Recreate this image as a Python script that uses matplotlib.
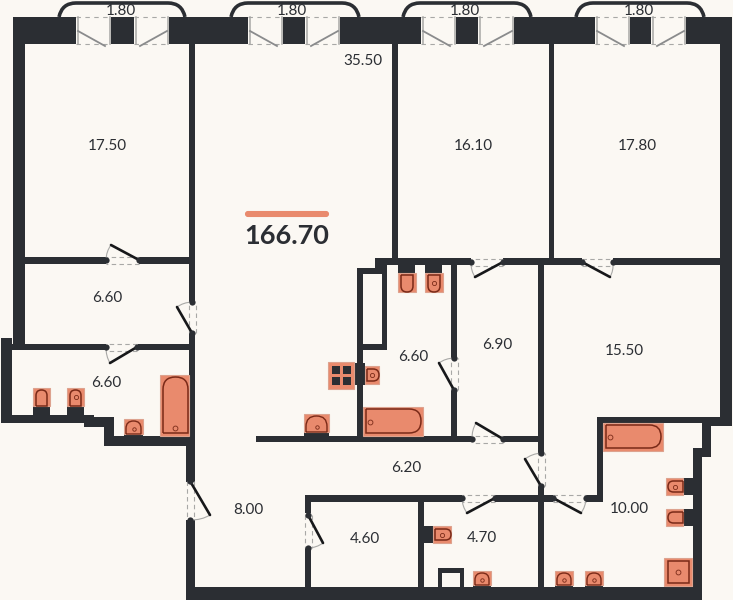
import matplotlib
matplotlib.use("Agg")
import matplotlib.pyplot as plt
from matplotlib.patches import Rectangle, Polygon, PathPatch, FancyBboxPatch
from matplotlib.path import Path

plt.rcParams['font.family'] = ['Lato', 'DejaVu Sans']

BG = '#FBF8F3'
WALL = '#2B2E33'
ORANGE = '#E98A6D'
ORANGE_EDGE = '#DDA28E'
LINE = '#7A2A18'
GREY = '#A8A8A6'

# room areas as printed on the plan
area_labels = ['17.50', '35.50', '16.10', '17.80', '6.60', '6.60', '6.60', '6.90',
               '15.50', '6.20', '8.00', '4.60', '4.70', '10.00']
area_x = [107, 363, 473, 637, 107, 106, 413, 497, 624, 406, 248, 365, 482, 629]
area_y = [146, 61, 146, 146, 298, 383, 357, 345, 351, 468, 510, 539, 538, 509]

balcony_label = '1.80'
total_label = '166.70'

# walls, x0 x1 y0 y1 in image pixels
walls = [
    (13, 76, 17, 44), (169, 248, 17, 44), (340, 421, 17, 44), (514, 595, 17, 44), (686, 732, 17, 44),
    (111, 134, 17, 44), (283, 305, 17, 44), (456, 478, 17, 44), (630, 651, 17, 44),
    (13, 25, 44, 345), (720, 732, 44, 426),
    (189, 195, 44, 302), (189, 195, 333, 440), (186, 195, 440, 482), (186, 195, 520, 600),
    (25, 106, 257, 264), (139, 190, 257, 264),
    (1, 106, 344, 350), (138, 190, 344, 350), (1, 12, 338, 423),
    (392, 398, 44, 258), (549, 554, 44, 258),
    (375, 471, 258, 265), (503, 582, 258, 265), (613, 720, 258, 265),
    (375, 387, 258, 274), (357, 382, 268, 274), (357, 363, 268, 442),
    (382, 387, 265, 350), (363, 387, 344, 350),
    (451, 457, 265, 358), (451, 457, 390, 436),
    (538, 544, 265, 453), (538, 544, 486, 600),
    (256, 472, 436, 442), (503, 538, 436, 442),
    (305, 462, 495, 502), (495, 553, 495, 502), (586, 603, 495, 502),
    (597, 603, 417, 502), (597, 732, 417, 423), (711, 732, 417, 426),
    (702, 711, 423, 457), (693, 702, 448, 600), (693, 711, 448, 457),
    (186, 702, 587, 600),
    (305, 311, 495, 513), (305, 311, 548, 587), (418, 424, 502, 587),
    (424, 433, 526, 543), (438, 442, 568, 587), (460, 464, 568, 587), (438, 464, 568, 573),
    # stubs behind the fixtures
    (33, 50, 406, 415), (67, 84, 406, 415), (124, 143, 433, 436), (304, 329, 432, 436),
    (354, 365, 363, 385), (398, 415, 265, 273), (425, 442, 265, 273),
    (683, 693, 478, 495), (683, 693, 509, 526),
    (473, 491, 584, 587), (555, 573, 584, 587), (585, 603, 584, 587),
]
step_wall = [(1, 415), (94, 415), (94, 417), (114, 417), (114, 436), (190, 436), (190, 446),
             (104, 446), (104, 427), (84, 427), (84, 423), (1, 423)]

# window openings: left edge, pier left, pier right, right edge, arch left, arch right
windows = [
    (76, 111, 134, 169, 59, 185),
    (248, 283, 305, 340, 231, 359),
    (421, 456, 478, 514, 403, 531),
    (595, 630, 651, 686, 576, 704),
]

# doors: hinge, other jamb, tip of the leaf
doors = [
    ((139, 260), (106, 260), (111, 245)),
    ((137, 347), (106, 347), (110, 363)),
    ((192, 333), (192, 302), (177, 307)),
    ((190, 481), (190, 520), (210, 515)),
    ((308, 515), (308, 548), (323, 543)),
    ((454, 390), (454, 358), (439, 363)),
    ((503, 439), (472, 439), (476, 423)),
    ((541, 486), (541, 453), (525, 459)),
    ((495, 498), (462, 498), (467, 513)),
    ((553, 498), (586, 498), (581, 513)),
    ((503, 262), (471, 262), (475, 277)),
    ((582, 262), (613, 262), (610, 277)),
]

# fixtures x0 x1 y0 y1, rounded side, drain circle or not
baths = [(160, 189, 375, 436, 'up'), (363, 423, 407, 436, 'right'), (603, 663, 423, 451, 'right')]
toilets = [(33, 50, 388, 406, 'up', False), (67, 84, 388, 406, 'up', True),
           (398, 416, 273, 292, 'down', False), (425, 443, 273, 292, 'down', True),
           (666, 683, 478, 495, 'left', True), (666, 683, 509, 526, 'left', False),
           (433, 451, 526, 543, 'right', True), (365, 379, 366, 384, 'right', True)]
sinks = [(124, 143, 419, 434), (304, 329, 414, 432), (473, 491, 571, 585),
         (555, 573, 571, 585), (585, 603, 571, 585)]
shower = (664, 692, 558, 586)
stove = (328, 354, 362, 389)
burners_x = [336, 347]
burners_y = [370, 381]


def arched(x0, x1, y0, y1, side):
    # outline with a rounded end on the given side
    if side == 'up':
        r = (x1 - x0) * 0.5
        verts = [(x0, y1), (x0, y0 + r), (x0, y0), (x0 + r, y0), (x1, y0), (x1, y0 + r), (x1, y1), (x0, y1)]
    elif side == 'down':
        r = (x1 - x0) * 0.5
        verts = [(x0, y0), (x0, y1 - r), (x0, y1), (x0 + r, y1), (x1, y1), (x1, y1 - r), (x1, y0), (x0, y0)]
    elif side == 'right':
        r = (y1 - y0) * 0.5
        verts = [(x0, y0), (x1 - r, y0), (x1, y0), (x1, y0 + r), (x1, y1), (x1 - r, y1), (x0, y1), (x0, y0)]
    else:
        r = (y1 - y0) * 0.5
        verts = [(x1, y0), (x0 + r, y0), (x0, y0), (x0, y0 + r), (x0, y1), (x0 + r, y1), (x1, y1), (x1, y0)]
    codes = [Path.MOVETO, Path.LINETO, Path.CURVE3, Path.CURVE3, Path.CURVE3, Path.CURVE3, Path.LINETO, Path.LINETO]
    return Path(verts, codes)


def base_rect(ax, x0, x1, y0, y1):
    ax.add_patch(Rectangle((x0, y0), x1 - x0, y1 - y0, fc=ORANGE, ec=ORANGE_EDGE, lw=0.8, zorder=3))


def drain(ax, x, y, size=3.5):
    ax.plot(x, y, 'o', mfc='none', mec=LINE, ms=size, mew=0.6, zorder=4)


def draw_window(ax, w):
    x0, p0, p1, x1, a0, a1 = w
    # dashed sill lines
    for y in (17, 44):
        ax.plot([x0, p0], [y, y], color=GREY, lw=0.8, ls=(0, (4, 4)), zorder=2)
        ax.plot([p1, x1], [y, y], color=GREY, lw=0.8, ls=(0, (4, 4)), zorder=2)
    for x in (x0 + 1.5, p0 - 1.5, p1 + 1.5, x1 - 1.5):
        ax.plot([x, x], [17, 44], color=GREY, lw=1.1, zorder=2)
    ax.plot([x0 + 2, p0 - 6], [31, 46], color='#8A8B8C', lw=1.3, zorder=3)
    ax.plot([x1 - 2, p1 + 6], [31, 46], color='#8A8B8C', lw=1.3, zorder=3)
    verts = [(a0, 17), (a0 + 3, 3), (a0 + 17, 3), (a1 - 17, 3), (a1 - 3, 3), (a1, 17)]
    codes = [Path.MOVETO, Path.CURVE3, Path.CURVE3, Path.LINETO, Path.CURVE3, Path.CURVE3]
    ax.add_patch(PathPatch(Path(verts, codes), fc='none', ec=WALL, lw=2.6, zorder=3))


def draw_door(ax, d):
    hinge, jamb, tip = d
    horizontal = hinge[1] == jamb[1]
    for off in (-3.5, 3.5):
        if horizontal:
            ax.plot([hinge[0], jamb[0]], [hinge[1] + off, jamb[1] + off], color=GREY, lw=0.8, ls=(0, (4, 3)), zorder=2)
        else:
            ax.plot([hinge[0] + off, jamb[0] + off], [hinge[1], jamb[1]], color=GREY, lw=0.8, ls=(0, (4, 3)), zorder=2)
    ax.plot([hinge[0], tip[0]], [hinge[1], tip[1]], color='#17181A', lw=1.9, zorder=4, solid_capstyle='round')
    mid = ((tip[0] + jamb[0]) / 2 + (tip[0] - hinge[0]) * 0.08, (tip[1] + jamb[1]) / 2 + (tip[1] - hinge[1]) * 0.08)
    ax.add_patch(PathPatch(Path([tip, mid, jamb], [Path.MOVETO, Path.CURVE3, Path.CURVE3]),
                           fc='none', ec=GREY, lw=0.8, zorder=2))
    for p in (hinge, jamb):
        ax.plot(p[0], p[1], 'o', color=WALL, ms=4.5, mew=0, zorder=4)


fig = plt.figure(figsize=(7.33, 6.0), dpi=100, facecolor=BG)
ax = fig.add_axes([0, 0, 1, 1])
ax.set_xlim(0, 733)
ax.set_ylim(600, 0)
ax.axis('off')

for x0, x1, y0, y1 in walls:
    ax.add_patch(Rectangle((x0, y0), x1 - x0, y1 - y0, fc=WALL, ec='none', zorder=1))
ax.add_patch(Polygon(step_wall, closed=True, fc=WALL, ec='none', zorder=1))

for w in windows:
    draw_window(ax, w)
for d in doors:
    draw_door(ax, d)

for x0, x1, y0, y1, side in baths:
    base_rect(ax, x0, x1, y0, y1)
    ax.add_patch(PathPatch(arched(x0 + 3, x1 - 1 if side == 'up' else x1 - 2, y0 + 2, y1 - 3, side),
                           fc='none', ec=LINE, lw=1.1, zorder=4))
    if side == 'up':
        drain(ax, (x0 + x1) / 2, y1 - 8)
    else:
        drain(ax, x0 + 7, (y0 + y1) / 2)

for x0, x1, y0, y1, side, has_drain in toilets:
    base_rect(ax, x0, x1, y0, y1)
    ax.add_patch(PathPatch(arched(x0 + 3, x1 - 3, y0 + 2, y1, side) if side in ('up', 'down')
                           else arched(x0 + 2, x1, y0 + 3, y1 - 3, side),
                           fc='none', ec=LINE, lw=1.1, zorder=4))
    if has_drain:
        drain(ax, (x0 + x1) / 2, (y0 + y1) / 2, 3)

for x0, x1, y0, y1 in sinks:
    base_rect(ax, x0, x1, y0, y1)
    ax.add_patch(PathPatch(arched(x0 + 2, x1 - 2, y0 + 2, y1, 'up'), fc='none', ec=LINE, lw=1.0, zorder=4))
    drain(ax, (x0 + x1) / 2, y1 - 5, 2.5)

base_rect(ax, *shower)
ax.add_patch(Rectangle((shower[0] + 4, shower[2] + 3), shower[1] - shower[0] - 7, shower[3] - shower[2] - 6,
                       fc='none', ec=LINE, lw=1.1, zorder=4))
drain(ax, (shower[0] + shower[1]) / 2, (shower[2] + shower[3]) / 2)

base_rect(ax, *stove)
for cx in burners_x:
    for cy in burners_y:
        ax.add_patch(Rectangle((cx - 4, cy - 4), 8, 8, fc=WALL, ec='none', zorder=4))

for lbl, x, y in zip(area_labels, area_x, area_y):
    ax.text(x, y, lbl, ha='center', va='center', fontsize=11, color=WALL, zorder=5)
for w in windows:
    ax.text((w[1] + w[2]) / 2 - 2, 11, balcony_label, ha='center', va='center', fontsize=11, color=WALL, zorder=5)

ax.add_patch(FancyBboxPatch((246, 212), 82, 4, boxstyle='round,pad=0,rounding_size=2', fc=ORANGE, ec=ORANGE, lw=1.5, zorder=3))
ax.text(287, 236, total_label, ha='center', va='center', fontsize=19.5, fontweight='bold', color=WALL, zorder=5)

fig.savefig('out.png', dpi=100, facecolor=BG)
